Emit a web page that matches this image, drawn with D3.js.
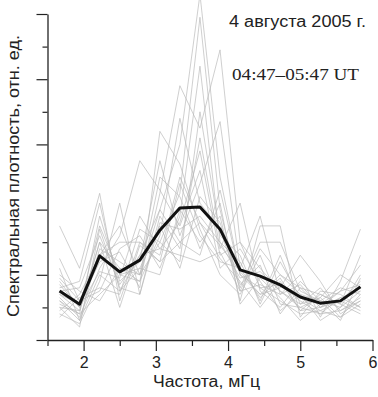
<!DOCTYPE html>
<html><head><meta charset="utf-8">
<script src="https://cdn.jsdelivr.net/npm/d3@7"></script>
<style>html,body{margin:0;padding:0;background:#fff;}svg{display:block;}</style>
</head><body>
<script>
// Frequencies (mHz): k/3.6 for k=6..21 (1-hour window resolution)
const freqs = [1.667,1.944,2.222,2.5,2.778,3.056,3.333,3.611,3.889,4.167,4.444,4.722,5.0,5.278,5.556,5.833];
// Mean spectrum (thick black line)
const meanSpectrum = [1.50,1.10,2.58,2.09,2.45,3.37,4.05,4.08,3.40,2.15,1.96,1.69,1.32,1.13,1.20,1.63];
// Individual station spectra (thin grey lines)
const s01 = [1.2,0.6,2.0,1.5,2.6,4.0,6.0,10.6,5.0,2.0,1.6,1.2,0.8,0.9,0.7,1.1];
const s02 = [1.8,1.0,3.5,2.0,1.8,4.5,7.8,6.5,8.9,3.0,2.2,1.5,1.0,0.8,1.3,1.5];
const s03 = [0.9,1.4,2.6,3.5,2.0,3.0,4.5,9.9,4.0,1.5,2.8,2.0,1.6,1.0,1.5,2.3];
const s04 = [2.5,1.2,1.5,2.8,3.2,2.2,3.8,8.4,3.0,2.4,1.2,2.6,1.1,1.6,0.9,1.2];
const s05 = [1.1,0.8,3.8,1.8,2.4,5.5,3.2,4.8,6.7,2.2,3.8,1.4,2.0,0.7,1.8,3.4];
const s06 = [3.5,2.2,4.5,1.2,3.0,2.6,5.0,3.6,2.5,1.8,1.0,1.8,0.9,1.4,1.1,0.8];
const s07 = [0.8,0.5,1.8,4.2,1.4,3.8,2.8,6.2,2.8,4.2,1.5,1.0,1.8,1.2,0.6,1.9];
const s08 = [1.6,1.8,4.2,1.5,2.2,2.0,4.0,3.0,3.8,1.2,3.5,3.5,0.7,1.5,1.4,1.0];
const s09 = [1.3,0.7,2.2,3.2,5.5,4.6,3.5,5.2,2.2,2.8,1.8,0.9,1.4,0.6,1.0,2.0];
const s10 = [2.0,1.5,1.2,2.2,1.8,3.2,6.8,4.2,3.4,1.6,3.0,3.0,1.5,1.2,1.6,1.4];
const s11 = [1.0,0.9,3.0,1.0,2.9,2.4,3.0,2.6,4.6,2.0,1.4,1.6,2.6,1.8,0.8,1.2];
const s12 = [1.4,1.1,2.4,2.7,1.6,6.4,5.4,3.4,2.0,1.4,2.6,1.1,1.0,1.3,2.0,1.6];
const s13 = [0.7,1.3,1.6,1.4,3.4,3.0,2.4,7.0,3.2,2.6,1.1,2.4,1.3,0.9,1.2,0.9];
const s14 = [2.2,0.6,2.8,2.4,2.0,5.0,4.4,2.8,4.2,1.1,1.9,1.3,0.6,1.1,1.5,1.7];
const s15 = [1.5,1.6,3.2,1.7,2.6,2.8,3.6,5.8,2.6,3.0,1.6,1.7,1.2,0.8,0.9,1.3];
const s16 = [1.2,0.8,1.4,2.0,2.2,3.5,2.2,4.4,3.6,1.7,2.3,0.8,1.6,1.4,1.1,2.6];
const s17 = [1.9,1.2,2.6,3.0,3.0,2.4,4.8,3.2,2.4,2.2,1.3,1.9,0.9,1.0,1.3,1.0];
const s18 = [1.0,0.4,3.4,1.6,1.4,3.6,3.4,3.8,3.0,1.9,2.1,1.5,1.1,1.3,0.7,1.4];
const s19 = [1.7,1.0,2.1,1.9,3.8,2.8,2.6,2.4,2.7,1.5,1.7,1.4,1.7,1.0,1.2,1.8];
const s20 = [1.4,0.9,3.0,2.2,2.0,4.0,3.0,3.6,2.9,2.1,1.4,2.0,1.4,1.2,1.0,1.5];
const greySeries = [s01,s02,s03,s04,s05,s06,s07,s08,s09,s10,s11,s12,s13,s14,s15,s16,s17,s18,s19,s20];
// Axis ticks
const xTicks = [1.5,2,2.5,3,3.5,4,4.5,5,5.5,6];
const xTickLabels = ["","2","","3","","4","","5","","6"];
const yTicks = [0,1,2,3,4,5,6,7,8,9,10];

const W = 378, H = 397;
const svg = d3.select("body").append("svg").attr("width", W).attr("height", H);
const x = d3.scaleLinear().domain([1.5, 6]).range([47.5, 372.5]);
const y = d3.scaleLinear().domain([0, 10]).range([340, 14]);

const line = d3.line().x((d,i) => x(freqs[i])).y(d => y(d));

svg.append("g").selectAll("path").data(greySeries).join("path")
  .attr("d", line).attr("fill","none")
  .attr("stroke","#b8b8b8").attr("stroke-opacity",0.75).attr("stroke-width",0.9);

svg.append("path").datum(meanSpectrum).attr("d", line)
  .attr("fill","none").attr("stroke","#111").attr("stroke-width",3)
  .attr("stroke-linejoin","round");

// Y axis
const gy = svg.append("g").attr("transform", `translate(${x(1.5)},0)`)
  .call(d3.axisLeft(y).tickValues(yTicks).tickFormat("").tickSizeOuter(0));
gy.selectAll(".tick line").attr("x2", d => d % 2 === 0 ? -11 : -5).attr("stroke","#222").attr("stroke-width",1.2);
gy.select(".domain").attr("stroke","#222").attr("stroke-width",1.3);

// X axis
const gx = svg.append("g").attr("transform", `translate(0,${y(0)})`)
  .call(d3.axisBottom(x).tickValues(xTicks).tickFormat((d,i) => xTickLabels[i]).tickSizeOuter(0));
gx.selectAll(".tick line").attr("y2", d => Number.isInteger(d) ? 11 : 6).attr("stroke","#222").attr("stroke-width",1.2);
gx.select(".domain").attr("stroke","#222").attr("stroke-width",1.3);
gx.selectAll(".tick text").attr("y", 17).attr("dy","0.71em")
  .attr("font-family","'Liberation Sans', Arial, sans-serif").attr("font-size",16).attr("fill","#222");

// Axis titles
svg.append("text").attr("x", 153).attr("y", 387).attr("textLength",107).attr("lengthAdjust","spacingAndGlyphs")
  .attr("font-family","'Liberation Sans', Arial, sans-serif").attr("font-size",16).attr("fill","#222")
  .text("Частота, мГц");
svg.append("text").attr("transform","translate(19,317) rotate(-90)").attr("textLength",282).attr("lengthAdjust","spacingAndGlyphs")
  .attr("font-family","'Liberation Sans', Arial, sans-serif").attr("font-size",17).attr("fill","#222")
  .text("Спектральная плотность, отн. ед.");

// Annotations
svg.append("text").attr("x", 229).attr("y", 26.5).attr("textLength",137).attr("lengthAdjust","spacingAndGlyphs")
  .attr("font-family","'Liberation Sans', Arial, sans-serif").attr("font-size",16).attr("fill","#222")
  .text("4 августа 2005 г.");
svg.append("text").attr("x", 232).attr("y", 80).attr("textLength",127).attr("lengthAdjust","spacingAndGlyphs")
  .attr("font-family","'Liberation Serif', 'Times New Roman', serif").attr("font-size",16).attr("fill","#222")
  .text("04:47–05:47 UT");
</script>
</body></html>
